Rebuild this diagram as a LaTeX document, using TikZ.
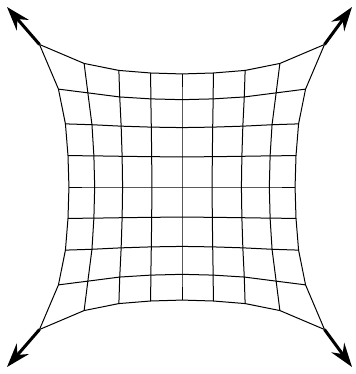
\documentclass[tikz,border=0pt]{standalone}
\usetikzlibrary{arrows.meta}
\begin{document}
\begin{tikzpicture}[x=0.5pt,y=-0.5pt,
  mesh/.style={black, line width=0.5pt, line join=round},
  pull/.style={black, line width=1.5pt, -{Stealth[length=12pt,width=8pt,inset=4pt]}}]
  \useasboundingbox (0,0) rectangle (355,374);

  % grid points, pulled out towards the corners
  \foreach \i in {0,...,8}{
    \foreach \j in {0,...,8}{
      \pgfmathsetmacro\u{\i-4}
      \pgfmathsetmacro\v{\j-4}
      \pgfmathsetmacro\d{sqrt((4-abs(\u))^2+(4-abs(\v))^2)}
      \pgfmathsetmacro\px{182+30*\u-0.117*\u*\u*\u+30*sign(\u)*exp(-\d)}
      \pgfmathsetmacro\py{187+30*\v-0.117*\v*\v*\v+30*sign(\v)*exp(-\d)}
      \coordinate (p\i-\j) at (\px,\py);
    }
  }

  % rows and columns
  \foreach \j in {0,...,8}
    \draw[mesh] (p0-\j) \foreach \i in {1,...,8}{ -- (p\i-\j)};
  \foreach \i in {0,...,8}
    \draw[mesh] (p\i-0) \foreach \j in {1,...,8}{ -- (p\i-\j)};

  % corner pulls
  \coordinate (tl) at (7,7);
  \coordinate (tr) at (352,7);
  \coordinate (bl) at (7,367);
  \coordinate (br) at (352,367);
  \draw[pull] (p0-0) -- (tl);
  \draw[pull] (p8-0) -- (tr);
  \draw[pull] (p0-8) -- (bl);
  \draw[pull] (p8-8) -- (br);
\end{tikzpicture}
\end{document}
